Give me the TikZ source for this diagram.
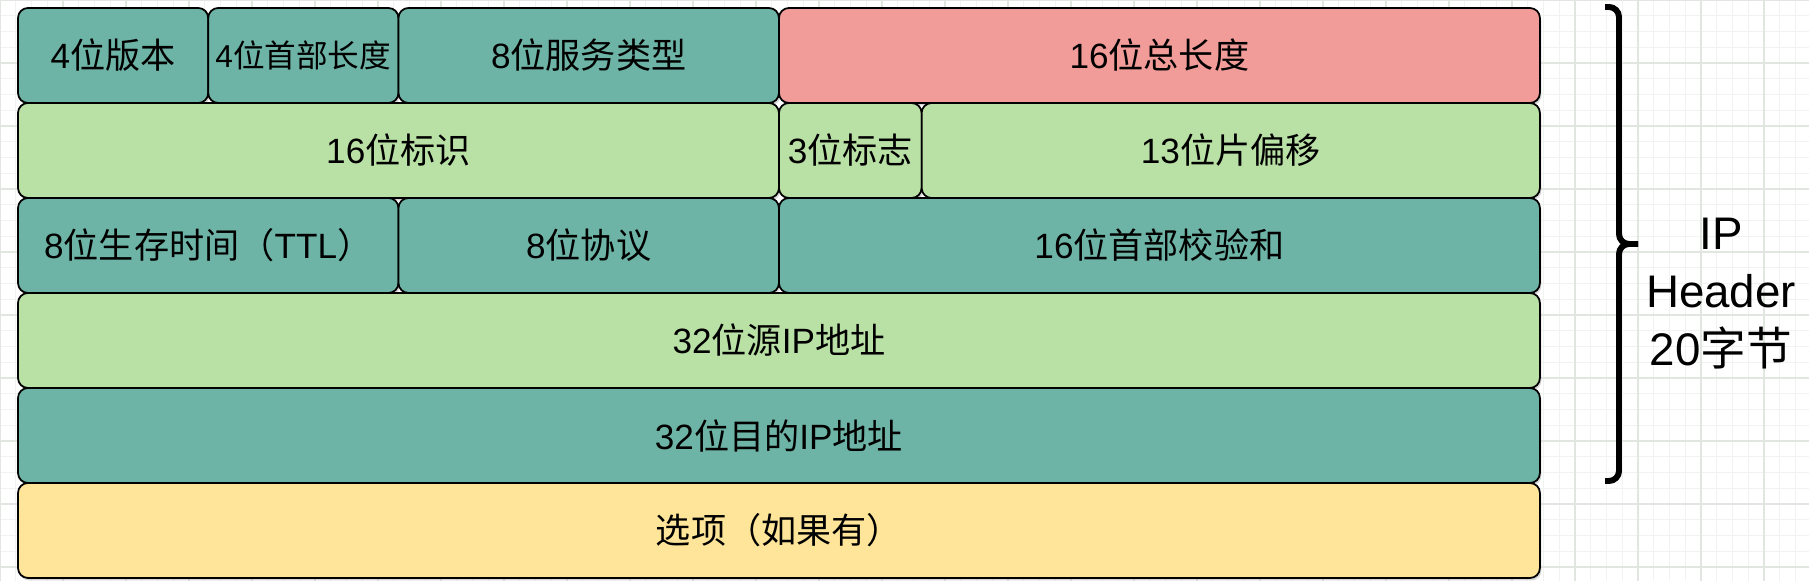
\documentclass[tikz,border=0pt]{standalone}
\usepackage{fontspec}
\setmainfont{Liberation Sans}
\newfontfamily\cjk{Noto Sans CJK SC}
\newcommand{\zh}[1]{{\cjk #1}}
\usepackage{xcolor}
\usetikzlibrary{positioning,shadows}
\definecolor{tealbox}{HTML}{6DB4A7}
\definecolor{greenbox}{HTML}{B9E0A5}
\definecolor{redbox}{HTML}{F19C99}
\definecolor{yellowbox}{HTML}{FFE599}
\definecolor{gridmin}{HTML}{F1F3F1}
\definecolor{gridmaj}{HTML}{E1E6E1}

\begin{document}
\begin{tikzpicture}[
  node distance=0pt,
  field/.style={draw, line width=0.5pt, rounded corners=0.1cm, minimum height=0.95cm,
    inner sep=0pt, outer sep=0pt, font=\fontsize{10}{12}\selectfont,
    drop shadow={shadow xshift=0.015cm, shadow yshift=-0.025cm, fill=black!40, opacity=0.4}},
  bits/.style={minimum width=#1*0.4756cm},
  tealfill/.style={fill=tealbox},
  greenfill/.style={fill=greenbox},
  redfill/.style={fill=redbox},
  yellowfill/.style={fill=yellowbox},
  bracket/.style={line width=1.7pt, rounded corners=0.1cm}
]
\useasboundingbox (0,-5.81) rectangle (18.09,0);
% background grid
\draw[gridmin, line width=0.3pt] (0,-5.81) grid[step=0.1575] (18.09,0);
\draw[gridmaj, line width=0.4pt] (0,-5.81) grid[step=0.63] (18.09,0);

% header fields, one row per 32 bits
\node[field, tealfill, bits=4, anchor=north west] (ver) at (0.18,-0.08) {4\zh{位版本}};
\node[field, tealfill, bits=4, right=of ver, font=\fontsize{9}{11}\selectfont] (ihl) {4\zh{位首部长度}};
\node[field, tealfill, bits=8, right=of ihl] (tos) {8\zh{位服务类型}};
\node[field, redfill, bits=16, right=of tos] (totlen) {16\zh{位总长度}};

\node[field, greenfill, bits=16, below right=of ver.south west] (ident) {16\zh{位标识}};
\node[field, greenfill, bits=3, right=of ident] (flags) {3\zh{位标志}};
\node[field, greenfill, bits=13, right=of flags] (frag) {13\zh{位片偏移}};

\node[field, tealfill, bits=8, below right=of ident.south west] (ttl) {8\zh{位生存时间（}TTL\zh{）}};
\node[field, tealfill, bits=8, right=of ttl] (proto) {8\zh{位协议}};
\node[field, tealfill, bits=16, right=of proto] (csum) {16\zh{位首部校验和}};

\node[field, greenfill, bits=32, below right=of ttl.south west] (src) {32\zh{位源}IP\zh{地址}};
\node[field, tealfill, bits=32, below right=of src.south west] (dst) {32\zh{位目的}IP\zh{地址}};
\node[field, yellowfill, bits=32, below right=of dst.south west] (opt) {\zh{选项（如果有）}};

% bracket over the fixed 20 bytes
\coordinate (btop) at (16.05,-0.07);
\coordinate (bbot) at (16.05,-4.81);
\coordinate (btip) at (16.38,-2.44);
\draw[bracket] (btop) -- (16.19,-0.07) -- (16.19,-2.44) -- (btip);
\draw[bracket] (btip) -- (16.19,-2.44) -- (16.19,-4.81) -- (bbot);
\node[align=center, font=\fontsize{13}{16.5}\selectfont] (hdr) at (17.21,-2.94) {IP\\Header\\20\zh{字节}};
\end{tikzpicture}
\end{document}
